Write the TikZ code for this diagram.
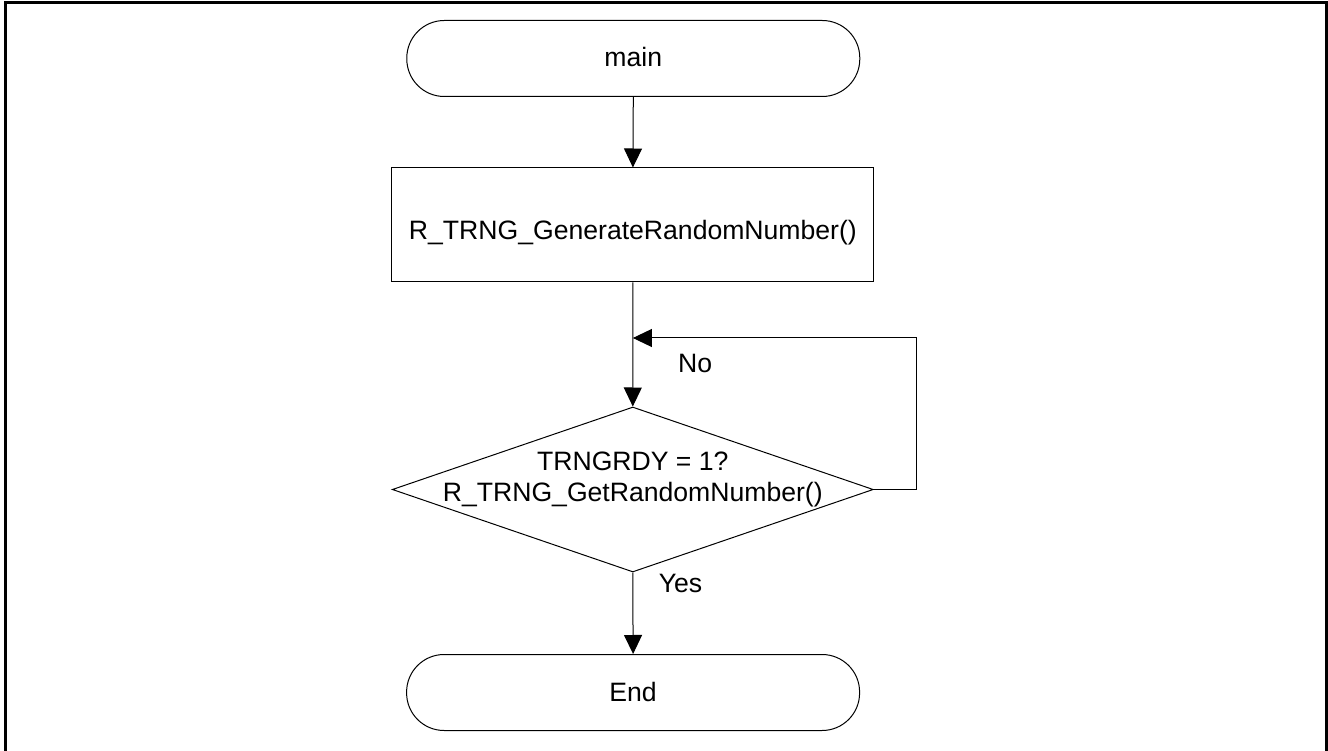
\documentclass[tikz,border=0pt]{standalone}
\usepackage{fontspec}
\setmainfont{Liberation Sans}
\usetikzlibrary{shapes.geometric,arrows.meta}
\begin{document}
\begin{tikzpicture}[x=1pt,y=-1pt,
  term/.style={draw, rectangle, rounded corners=37.5pt, minimum width=453pt, minimum height=76pt, inner sep=0pt, line width=1pt},
  procbox/.style={draw, rectangle, minimum width=482pt, minimum height=114pt, inner sep=0pt, line width=1pt},
  decision/.style={draw, diamond, minimum width=481pt, minimum height=165pt, inner sep=0pt, line width=1pt},
  lbl/.style={font=\fontsize{26.6}{31}\selectfont, inner sep=0pt, anchor=base},
  flow/.style={line width=1pt, -{Triangle[length=19pt,width=18pt]}},
  frame/.style={line width=3pt}
]
\useasboundingbox (0,0) rectangle (1328,751);
\draw[frame] (5,760) -- (5,3) -- (1326,3) -- (1326,760);

\node[term] (main) at (633.3,58.5) {};
\node[lbl] (maintxt) at (633.3,66.7) {main};

\node[procbox] (box) at (632.9,225) {};
\node[lbl] (boxtxt) at (632.9,239.3) {R\_TRNG\_GenerateRandomNumber()};

\node[decision] (dec) at (632.8,489.5) {};
\node[lbl] (dectxta) at (632.8,470.7) {TRNGRDY = 1?};
\node[lbl] (dectxtb) at (632.8,501.7) {R\_TRNG\_GetRandomNumber()};

\node[term] (end) at (633.1,692.5) {};
\node[lbl] (endtxt) at (633.1,701.7) {End};

\coordinate (loopR) at (916,489.5);
\coordinate (loopT) at (916,338);

\draw[flow] (main.south) -- (box.north);
\draw[flow] (box.south) -- (dec.north);
\draw[flow] (dec.south) -- (end.north);
\draw[flow] (dec.east) -- (loopR) -- (loopT) -- (loopT -| box.south);

\node[lbl, anchor=base west] (no) at (678,372) {No};
\node[lbl, anchor=base west] (yes) at (658.6,592.7) {Yes};
\end{tikzpicture}
\end{document}
